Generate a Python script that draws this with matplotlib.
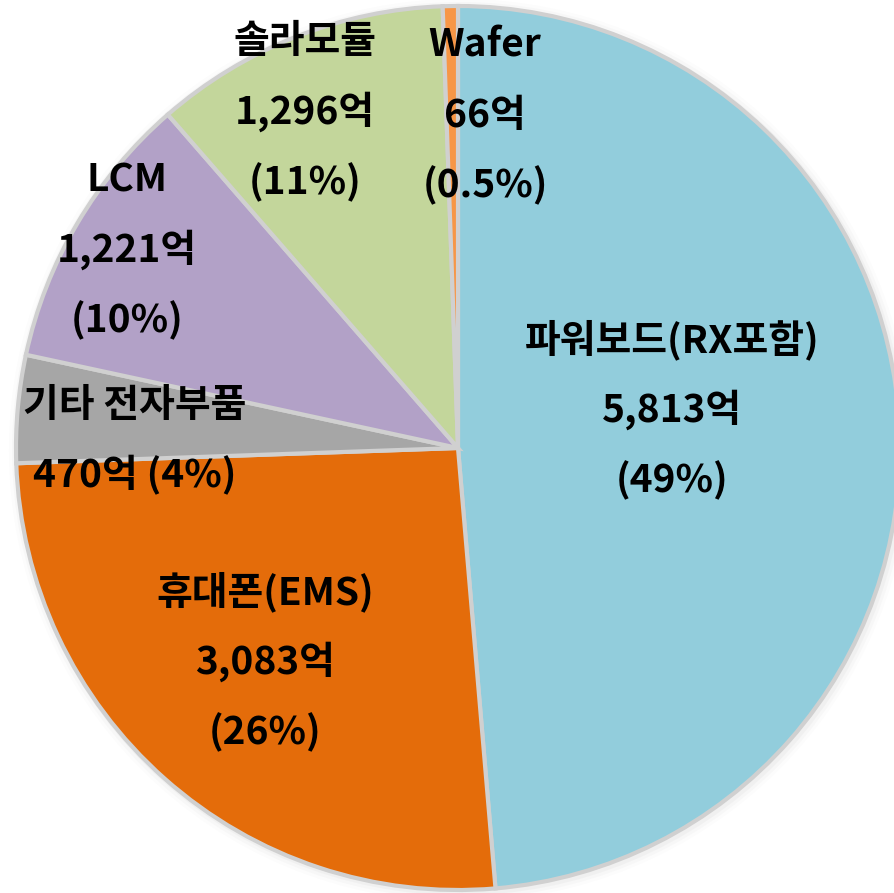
import matplotlib
matplotlib.use("Agg")
import matplotlib.pyplot as plt
from matplotlib.patches import Circle

plt.rcParams['font.family'] = ['Noto Sans CJK KR', 'DejaVu Sans']

names = ['파워보드(RX포함)', '휴대폰(EMS)', '기타 전자부품', 'LCM', '솔라모듈', 'Wafer']
values = [5813, 3083, 470, 1221, 1296, 66]
amounts = ['5,813억', '3,083억', '470억', '1,221억', '1,296억', '66억']
shares = ['(49%)', '(26%)', '(4%)', '(10%)', '(11%)', '(0.5%)']
colors = ['#92CDDC', '#E46C0A', '#A6A6A6', '#B2A1C7', '#C3D69B', '#F79646']

# label text centres in pixels (first line), line gap in pixels
label_px = [(672, 340), (265, 592), (135, 405), (127, 180), (305, 42), (485, 45)]
line_gap = 70

W, H = 895, 893
cx, cy, R = 458, 448, 442

fig = plt.figure(figsize=(W / 100, H / 100), dpi=100)
ax = fig.add_axes([0, 0, 1, 1])

# soft shadow behind the pie
for i, a in enumerate([0.03, 0.05, 0.07]):
    ax.add_patch(Circle((0.005, -0.005), 1.0 + 0.007 * (3 - i), color='#a0a0a0', alpha=a, lw=0))

ax.pie(values, colors=colors, startangle=90, counterclock=False, radius=1.0,
       wedgeprops=dict(edgecolor='#d0d0d0', linewidth=3))

def to_data(px, py):
    return (px - cx) / R, (cy - py) / R

for i, name in enumerate(names):
    px, py = label_px[i]
    if name == '기타 전자부품':
        lines = [name, amounts[i] + ' ' + shares[i]]
    else:
        lines = [name, amounts[i], shares[i]]
    for k, t in enumerate(lines):
        x, y = to_data(px, py + k * line_gap)
        ax.text(x, y, t, ha='center', va='center', fontsize=28, fontweight='bold', color='black')

ax.set_xlim(-cx / R, (W - cx) / R)
ax.set_ylim(-(H - cy) / R, cy / R)
ax.set_aspect('auto')
ax.axis('off')

fig.savefig('out.png', dpi=100, facecolor='white')
